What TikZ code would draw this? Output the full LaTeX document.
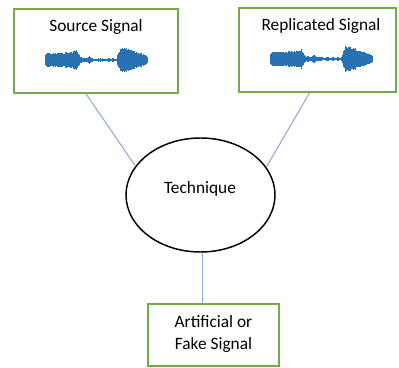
\documentclass[tikz,border=0pt]{standalone}
\usepackage{fontspec}
\usetikzlibrary{shapes.geometric}
\setmainfont{Carlito}
\definecolor{boxgreen}{RGB}{112,173,71}
\definecolor{linkblue}{RGB}{143,170,220}
\definecolor{waveblue}{RGB}{40,114,180}
\newcommand{\drawwave}[2]{%
  \foreach \a/\b/\ea/\eb in {0/2/5/7, 2/26/7/8, 26/31/8/10, 31/35/10/3.5, 35/41/3/2.2, 41/44/2.2/4, 44/47/4/1.6, 47/72/1.6/1.6, 72/75/4/12.5, 75/86/13/11, 86/96/10/7, 96/102/7/4}{%
    \pgfmathtruncatemacro{\n}{(\b-\a)*2}%
    \foreach \k in {0,...,\n}{%
      \pgfmathsetmacro{\u}{\a+\k*0.5}%
      \pgfmathsetmacro{\e}{\ea+(\eb-\ea)*\k/max(\n,1)}%
      \pgfmathsetmacro{\h}{\e*(0.75+0.25*rnd)}%
      \draw[waveline] (#1+\u,#2-\h) -- (#1+\u,#2+\h);
    }%
  }%
}
\begin{document}
\begin{tikzpicture}[x=0.75pt,y=-0.75pt,
  sigbox/.style={draw=boxgreen,line width=1.3pt,rectangle,inner sep=0pt},
  link/.style={draw=linkblue,line width=0.8pt},
  waveline/.style={draw=waveblue,line width=0.65pt},
  lbl/.style={font=\fontsize{13}{16.5}\selectfont,inner sep=0pt,align=center}]
\useasboundingbox (0,0) rectangle (399,367);
\pgfmathsetseed{7}
\node[sigbox,minimum width=164*0.75pt,minimum height=84*0.75pt] (src) at (96,51) {};
\node[sigbox,minimum width=157*0.75pt,minimum height=84*0.75pt] (rep) at (317.5,50) {};
\node[draw=black,line width=1.1pt,ellipse,minimum width=149*0.75pt,minimum height=114*0.75pt,inner sep=0pt] (tech) at (200.5,195) {};
\node[sigbox,minimum width=131*0.75pt,minimum height=62*0.75pt] (fake) at (213.5,335) {};
\node[lbl] (srct) at (96,27) {Source Signal};
\node[lbl] (rept) at (321,26) {Replicated Signal};
\node[lbl] (techt) at (200,189) {Technique};
\node[lbl] (faket) at (213.5,334) {Artificial or\\Fake Signal};
\drawwave{45}{60}
\drawwave{270}{59}
\coordinate (s1) at ([xshift=-7.5pt]src.south);
\draw[link] (s1) -- (tech.156);
\coordinate (r1) at ([xshift=-6pt]rep.south);
\draw[link] (r1) -- (tech.23);
\coordinate (t1) at ([xshift=1.5pt]tech.south);
\draw[link] (t1) -- (fake.north -| t1);
\end{tikzpicture}
\end{document}
